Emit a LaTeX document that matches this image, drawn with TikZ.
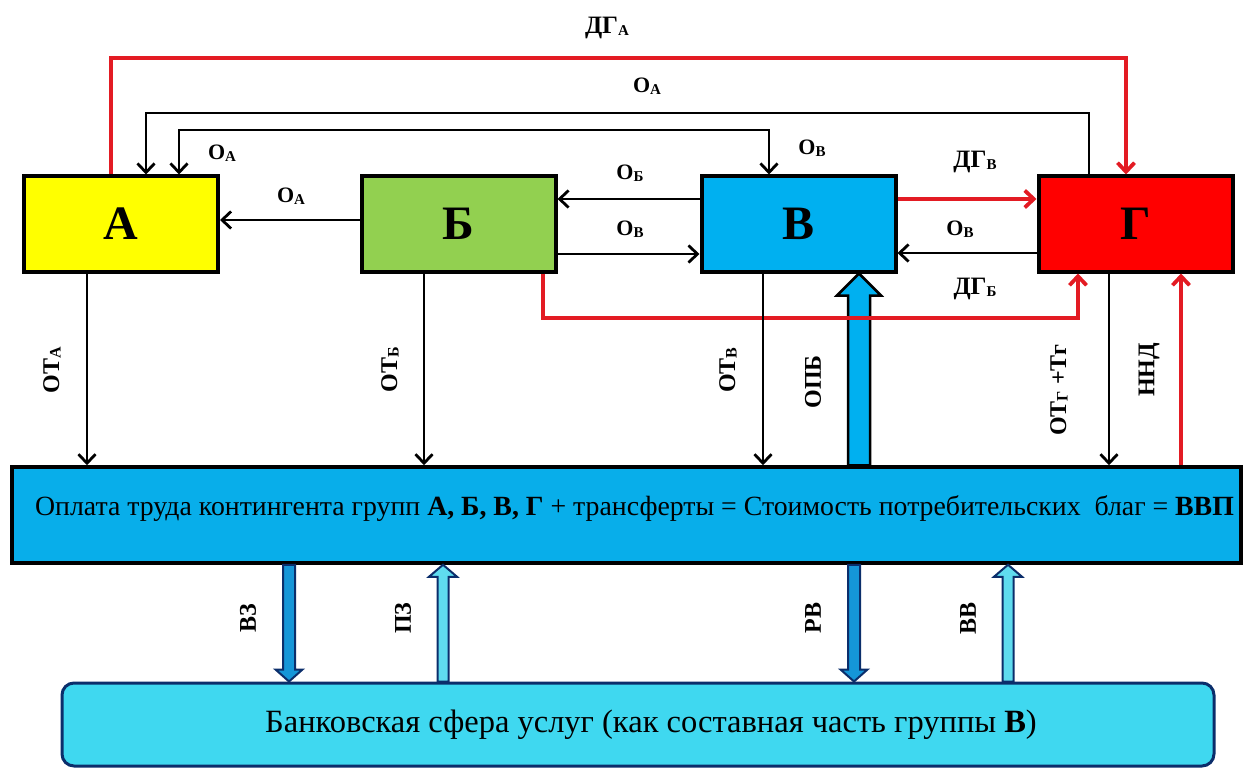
\documentclass[tikz,border=0pt]{standalone}
\usepackage{fontspec}
\setmainfont{Liberation Serif}
\usepackage{tikz}
\usetikzlibrary{arrows.meta,calc}
\definecolor{groupa}{HTML}{FFFF00}
\definecolor{groupb}{HTML}{92D050}
\definecolor{groupv}{HTML}{00B0F0}
\definecolor{groupg}{HTML}{FF0000}
\definecolor{flowred}{HTML}{E31B23}
\definecolor{gdpblue}{HTML}{08AEEA}
\definecolor{bankcyan}{HTML}{3FD8F0}
\definecolor{banknavy}{HTML}{0B2E6B}
\definecolor{depdark}{HTML}{1596D8}
\definecolor{deplight}{HTML}{5FDCEF}

\newcommand{\idx}[1]{\raisebox{-1.5pt}{\fontsize{15}{15}\selectfont #1}}
\newcommand{\vidx}[1]{\raisebox{-1.5pt}{\fontsize{16}{16}\selectfont #1}}
% block arrow: from, to, half shaft, half head, head length, style
\newcommand{\fatarrow}[6]{%
  \draw[#6] ($(#1)+(-#3,0)$) -- ($(#2)+(-#3,#5)$) -- ($(#2)+(-#4,#5)$) -- (#2)
    -- ($(#2)+(#4,#5)$) -- ($(#2)+(#3,#5)$) -- ($(#1)+(#3,0)$) -- cycle;}

\begin{document}
\begin{tikzpicture}[x=1pt, y=-1pt,
    group/.style={draw, line width=4pt, minimum width=194pt, minimum height=95pt, font=\fontsize{48}{48}\selectfont\bfseries},
    flow/.style={line width=2.8pt, -{Straight Barb[length=9pt,width=17pt]}},
    redflow/.style={flow, draw=flowred, line width=3.8pt},
    tag/.style={inner sep=1pt, font=\fontsize{22}{22}\selectfont\bfseries},
    bigtag/.style={tag, font=\fontsize{25}{25}\selectfont\bfseries},
    vtag/.style={inner sep=1pt, rotate=90, font=\fontsize{24}{24}\selectfont\bfseries}]

    \useasboundingbox (0,0) rectangle (1250,770);

    % Groups
    \node [group, fill = groupa] (a) at (121, 224) {А};
    \node [group, fill = groupb] (b) at (458.5, 224) {Б};
    \node [group, fill = groupv] (v) at (798.5, 224) {В};
    \node [group, fill = groupg] (g) at (1135.5, 224) {Г};

    \node [draw, line width = 3.5pt, fill = gdpblue, minimum width = 1229pt, minimum height = 96pt, text height = 10pt, text depth = 10pt, font = \fontsize{27.8}{28}\selectfont] (gdp) at (626.5, 515)
        {\hspace*{16pt}Оплата труда контингента групп \textbf{А, Б, В, Г} + трансферты = Стоимость потребительских~ благ = \textbf{ВВП}};
    \node [draw = banknavy, line width = 3pt, fill = bankcyan, rounded corners = 12pt, minimum width = 1152pt, minimum height = 83pt, font = \fontsize{32.5}{33}\selectfont] (bank) at (638, 724.5)
        {\hspace*{26pt}Банковская сфера услуг (как составная часть группы \textbf{В})};

    % Block arrows
    \coordinate (opb1) at (gdp.north -| 859,0);
    \coordinate (opb2) at (v.south -| 859,0);
    \fatarrow{opb1}{opb2}{11}{22}{22}{draw, line width = 2.5pt, fill = groupv, line join = miter}
    \coordinate (vz1) at (gdp.south -| 289,0);
    \coordinate (vz2) at (bank.north -| 289,0);
    \fatarrow{vz1}{vz2}{6}{13.5}{-12}{draw = banknavy, line width = 2pt, fill = depdark}
    \coordinate (pz1) at (bank.north -| 443,0);
    \coordinate (pz2) at (gdp.south -| 443,0);
    \fatarrow{pz1}{pz2}{5.5}{14}{12}{draw = banknavy, line width = 2pt, fill = deplight}
    \coordinate (rv1) at (gdp.south -| 854,0);
    \coordinate (rv2) at (bank.north -| 854,0);
    \fatarrow{rv1}{rv2}{6}{13.5}{-12}{draw = banknavy, line width = 2pt, fill = depdark}
    \coordinate (vv1) at (bank.north -| 1008,0);
    \coordinate (vv2) at (gdp.south -| 1008,0);
    \fatarrow{vv1}{vv2}{5.5}{14}{12}{draw = banknavy, line width = 2pt, fill = deplight}

    % Income (red)
    \draw [redflow] (a.north -| 111,0) |- (1126,58) -- (g.north -| 1126,0);
    \draw [redflow] (v.east |- 0,199) -- (g.west |- 0,199);
    \draw [redflow] (b.south -| 543,0) |- (1078,318) -- (g.south -| 1078,0);
    \draw [redflow] (gdp.north -| 1181,0) -- (g.south -| 1181,0);

    % Exchange between groups
    \draw [flow] (g.north -| 1089,0) |- (146,113) -- (a.north -| 146,0);
    \draw [flow, {Straight Barb[length=9pt,width=17pt]}-{Straight Barb[length=9pt,width=17pt]}] (a.north -| 179,0) |- (769,130) -- (v.north -| 769,0);
    \draw [flow] (b.west |- 0,220) -- (a.east |- 0,220);
    \draw [flow] (v.west |- 0,199) -- (b.east |- 0,199);
    \draw [flow] (b.east |- 0,254) -- (v.west |- 0,254);
    \draw [flow] (g.west |- 0,253) -- (v.east |- 0,253);

    % Wages
    \draw [flow] (a.south -| 87,0) -- (gdp.north -| 87,0);
    \draw [flow] (b.south -| 424,0) -- (gdp.north -| 424,0);
    \draw [flow] (v.south -| 763,0) -- (gdp.north -| 763,0);
    \draw [flow] (g.south -| 1109,0) -- (gdp.north -| 1109,0);

    % Labels
    \node [bigtag] (ldga) at (607, 28) {ДГ\idx{А}};
    \node [tag] (loa1) at (647, 86) {О\idx{А}};
    \node [tag] (loa2) at (222, 153) {О\idx{А}};
    \node [tag] (lov1) at (812, 148) {О\idx{В}};
    \node [tag] (loa3) at (291, 196) {О\idx{А}};
    \node [tag] (lob) at (630, 173) {О\idx{Б}};
    \node [tag] (lov2) at (630, 229) {О\idx{В}};
    \node [bigtag] (ldgv) at (975, 162) {ДГ\idx{В}};
    \node [tag] (lov3) at (960, 229) {О\idx{В}};
    \node [bigtag] (ldgb) at (975, 289) {ДГ\idx{Б}};

    \node [vtag] (lota) at (52, 370) {ОТ\vidx{А}};
    \node [vtag] (lotb) at (390, 370) {ОТ\vidx{Б}};
    \node [vtag] (lotv) at (728, 370) {ОТ\vidx{В}};
    \node [vtag] (lopb) at (813, 382) {ОПБ};
    \node [vtag] (lotg) at (1059, 390) {ОТ\vidx{Г} +Тг};
    \node [vtag] (lnnd) at (1149, 370) {ННД};

    \node [vtag] (lvz) at (248, 618) {ВЗ};
    \node [vtag] (lpz) at (403, 618) {ПЗ};
    \node [vtag] (lrv) at (813, 618) {РВ};
    \node [vtag] (lvv) at (968, 618) {ВВ};

\end{tikzpicture}
\end{document}
